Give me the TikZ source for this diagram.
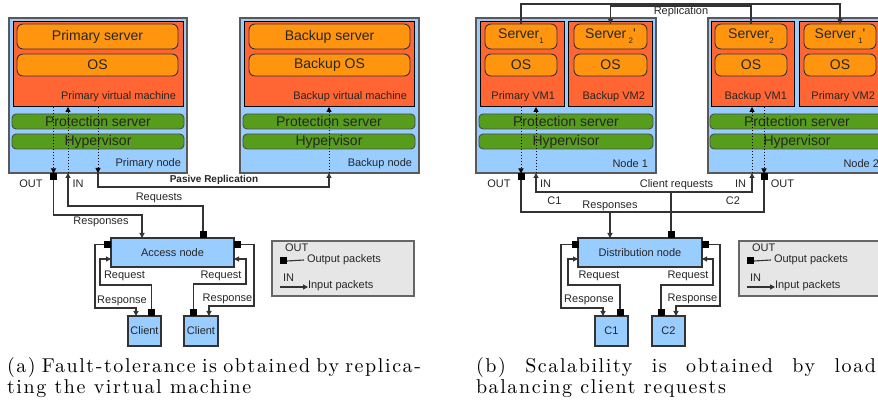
\documentclass[tikz,border=0pt]{standalone}
\usepackage{fontspec}
\newfontfamily\arialfont{Liberation Sans}
\newfontfamily\capserif{lmroman10-regular}[Extension=.otf, LetterSpace=8]
\usetikzlibrary{arrows.meta,positioning}

\definecolor{nodeblue}{HTML}{99CCFF}
\definecolor{vmred}{HTML}{FF6633}
\definecolor{srvorange}{HTML}{FF950E}
\definecolor{protgreen}{HTML}{579D1C}
\definecolor{legendgray}{HTML}{E6E6E6}
\definecolor{linegray}{HTML}{333333}

\newcommand{\srvsub}[1]{\raisebox{-5pt}{\fontsize{8}{8}\selectfont #1}}

\tikzset{
  every node/.style={font=\arialfont, text=black!85, inner sep=0pt, outer sep=0pt},
  nodebox/.style={draw=black!65, line width=1.3pt, fill=nodeblue, anchor=north west},
  vmbox/.style={draw=black, line width=1pt, fill=vmred, anchor=north west},
  srvbox/.style={draw=black!80, line width=0.9pt, fill=srvorange, rounded corners=6pt, anchor=north west, font=\arialfont\fontsize{14}{16}\selectfont},
  protbar/.style={draw=black!70, line width=0.9pt, fill=protgreen, rounded corners=4pt, anchor=north west, font=\arialfont\fontsize{14}{16}\selectfont},
  accbox/.style={draw=black!80, line width=1.1pt, fill=nodeblue, anchor=north west, font=\arialfont\fontsize{11}{13}\selectfont},
  legbox/.style={draw=black!60, line width=1.1pt, fill=legendgray, anchor=north west},
  lbl/.style={font=\arialfont\fontsize{11}{13}\selectfont},
  sq/.style={fill=black, minimum size=7pt},
  conn/.style={draw=linegray, line width=1.1pt},
  arr/.style={conn, -{Triangle[length=5pt,width=5pt]}},
  dotarr/.style={draw=black, line width=1pt, dotted, -{Triangle[length=5pt,width=5pt]}},
  captxt/.style={anchor=base west, font=\capserif\fontsize{20}{21}\selectfont, text=black},
}

\begin{document}
\begin{tikzpicture}[x=1pt,y=-1pt]

  \useasboundingbox (0,0) rectangle (878,411);
  \clip (0,0) rectangle (878,411);

  % ===== (a) fault tolerance =====

  % primary node
  \node[nodebox, minimum width=178, minimum height=155] (pnode) at (9,18) {};
  \node[vmbox, minimum width=170, minimum height=85] (pvm) at (13,22) {};
  \node[srvbox, minimum width=161, minimum height=25] (psrv) at (17,24) {Primary server};
  \node[srvbox, minimum width=161, minimum height=22] (pos) at (17,54) {OS};
  \node[lbl, anchor=east] (pvmlbl) at (176,97) {Primary virtual machine};
  \node[protbar, minimum width=172, minimum height=15] (pprot) at (12,114) {Protection server};
  \node[protbar, minimum width=172, minimum height=15] (phyp) at (12,134) {Hypervisor};
  \node[lbl, anchor=east] (pnodelbl) at (181,164) {Primary node};

  % backup node
  \node[nodebox, minimum width=179, minimum height=155] (bnode) at (240,18) {};
  \node[vmbox, minimum width=170, minimum height=85] (bvm) at (244,22) {};
  \node[srvbox, minimum width=161, minimum height=25] (bsrv) at (249,24) {Backup server};
  \node[srvbox, minimum width=161, minimum height=22] (bos) at (249,54) {Backup OS};
  \node[lbl, anchor=east] (bvmlbl) at (407,97) {Backup virtual machine};
  \node[protbar, minimum width=172, minimum height=15] (bprot) at (243,114) {Protection server};
  \node[protbar, minimum width=172, minimum height=15] (bhyp) at (243,134) {Hypervisor};
  \node[lbl, anchor=east] (bnodelbl) at (412,164) {Backup node};

  % ports
  \node[sq] (pout) at (53.5,177) {};
  \coordinate (pin) at (68,173);
  \coordinate (prep) at (98,173);
  \coordinate (brep) at (329,173);
  \node[lbl] (poutlbl) at (31,184) {OUT};
  \node[lbl] (pinlbl) at (78,184) {IN};

  % packets through the hypervisor
  \draw[dotarr] (pout |- pvm.south) -- (pout.north);
  \draw[dotarr] (pin) -- (pin |- pvm.south);
  \draw[dotarr] (prep |- pvm.south) -- (prep);
  \draw[dotarr] (brep) -- (brep |- bvm.south);

  % passive replication
  \draw[arr] (prep) -- (98,187) -| (brep);
  \node[lbl, font=\arialfont\bfseries\fontsize{10}{12}\selectfont] (replbl) at (214,180) {Pasive Replication};

  % access node and clients
  \node[accbox, minimum width=123, minimum height=29] (acc) at (111,238) {Access node};
  \node[sq] (acctop) at (203,234.5) {};
  \node[sq] (accl) at (107.5,244.5) {};
  \node[sq] (accr) at (237.5,244.5) {};
  \coordinate (accresp) at (142,238);
  \coordinate (accin1) at (111,259);
  \coordinate (accin2) at (234,259);

  \node[accbox, minimum width=33, minimum height=30] (cl1) at (128,316) {Client};
  \node[accbox, minimum width=34, minimum height=30] (cl2) at (184,316) {Client};
  \node[sq] (cl1sq) at (151.5,313) {};
  \node[sq] (cl2sq) at (193.5,313) {};
  \coordinate (cl1in) at (136,316);
  \coordinate (cl2in) at (209,316);

  % requests and responses
  \draw[arr] (pout.south) |- (142,215) -- (accresp);
  \draw[arr] (acctop.north) |- (68,206) -- (pin);
  \node[lbl] (reqlbl) at (159,198) {Requests};
  \node[lbl] (resplbl) at (101,222) {Responses};

  \draw[arr] (accl.west) -| (95,308) -| (cl1in);
  \draw[arr] (cl1sq.north) |- (100,285) |- (accin1);
  \draw[arr] (accr.east) -| (254,306) -| (cl2in);
  \draw[arr] (cl2sq.north) |- (246,284) |- (accin2);
  \node[lbl] (cl1req) at (124.5,276) {Request};
  \node[lbl] (cl1resp) at (122,301) {Response};
  \node[lbl] (cl2req) at (221,276) {Request};
  \node[lbl] (cl2resp) at (227.5,299) {Response};

  % legend
  \node[legbox, minimum width=142, minimum height=55] (leg1) at (272,241) {};
  \node[lbl, anchor=west] (leg1out) at (285,248) {OUT};
  \node[sq] (leg1sq) at (283.5,261) {};
  \node[lbl, anchor=west] (leg1optxt) at (307,260) {Output packets};
  \draw[conn] (leg1sq.east) -- ([xshift=-3pt]leg1optxt.west);
  \node[lbl, anchor=west] (leg1in) at (283,278) {IN};
  \coordinate (leg1ia) at (280,287);
  \node[lbl, anchor=west] (leg1iptxt) at (308,286) {Input packets};
  \draw[arr] (leg1ia) -- (leg1ia -| leg1iptxt.west);

  % ===== (b) scalability =====

  % node 1
  \node[nodebox, minimum width=180, minimum height=155] (n1) at (476,18) {};
  \node[vmbox, minimum width=84, minimum height=85] (vm11) at (480,22) {};
  \node[vmbox, minimum width=84, minimum height=85] (vm12) at (568,22) {};
  \node[srvbox, minimum width=72, minimum height=25] (s11) at (485,24) {Server\srvsub{1}};
  \node[srvbox, minimum width=72, minimum height=22] (os11) at (485,54) {OS};
  \node[srvbox, minimum width=73, minimum height=25] (s12) at (574,24) {Server\,\srvsub{2}'};
  \node[srvbox, minimum width=73, minimum height=22] (os12) at (574,54) {OS};
  \node[lbl, anchor=east] (vm11lbl) at (555,97) {Primary VM1};
  \node[lbl, anchor=east] (vm12lbl) at (645,97) {Backup VM2};
  \node[protbar, minimum width=174, minimum height=15] (n1prot) at (479,114) {Protection server};
  \node[protbar, minimum width=174, minimum height=15] (n1hyp) at (479,134) {Hypervisor};
  \node[lbl, anchor=east] (n1lbl) at (648,164) {Node 1};

  % node 2
  \node[nodebox, minimum width=180, minimum height=155] (n2) at (708,18) {};
  \node[vmbox, minimum width=83, minimum height=85] (vm21) at (711,22) {};
  \node[vmbox, minimum width=84, minimum height=85] (vm22) at (799,22) {};
  \node[srvbox, minimum width=72, minimum height=25] (s21) at (715,24) {Server\srvsub{2}};
  \node[srvbox, minimum width=72, minimum height=22] (os21) at (715,54) {OS};
  \node[srvbox, minimum width=72, minimum height=25] (s22) at (804,24) {Server\,\srvsub{1}'};
  \node[srvbox, minimum width=72, minimum height=22] (os22) at (804,54) {OS};
  \node[lbl, anchor=east] (vm21lbl) at (787,97) {Backup VM1};
  \node[lbl, anchor=east] (vm22lbl) at (875,97) {Primary VM2};
  \node[protbar, minimum width=174, minimum height=15] (n2prot) at (710,114) {Protection server};
  \node[protbar, minimum width=174, minimum height=15] (n2hyp) at (710,134) {Hypervisor};
  \node[lbl, anchor=east] (n2lbl) at (879,164) {Node 2};

  % replication between the nodes
  \draw[arr] (s11.north) -- ++(0,-20) -| (s22.north);
  \draw[arr] (s21.north) -- ++(0,-18) -| (s12.north);
  \node[lbl] (replbl2) at (681,12) {Replication};

  % ports
  \node[sq] (n1out) at (521,177) {};
  \coordinate (n1in) at (536,173);
  \node[sq] (n2out) at (764,177) {};
  \coordinate (n2in) at (752,173);
  \node[lbl] (n1outlbl) at (499,184) {OUT};
  \node[lbl] (n1inlbl) at (545.5,184) {IN};
  \node[lbl] (n2inlbl) at (740.5,184) {IN};
  \node[lbl] (n2outlbl) at (782.5,184) {OUT};

  \draw[dotarr] (n1out |- vm11.south) -- (n1out.north);
  \draw[dotarr] (n1in) -- (n1in |- vm11.south);
  \draw[dotarr] (n2in) -- (n2in |- vm21.south);
  \draw[dotarr] (n2out |- vm21.south) -- (n2out.north);

  % distribution node and clients
  \node[accbox, minimum width=124, minimum height=29] (dist) at (578,238) {Distribution node};
  \node[sq] (disttop) at (671,234.5) {};
  \node[sq] (distl) at (575,244.5) {};
  \node[sq] (distr) at (705.5,244.5) {};
  \coordinate (creq) at (671,192);
  \coordinate (dresp) at (610,212);
  \coordinate (distin1) at (578,259);
  \coordinate (distin2) at (702,259);

  \node[accbox, minimum width=33, minimum height=30] (c1) at (595,316) {C1};
  \node[accbox, minimum width=33, minimum height=30] (c2) at (652,316) {C2};
  \node[sq] (c1sq) at (620,313) {};
  \node[sq] (c2sq) at (661,313) {};
  \coordinate (c1in) at (603,316);
  \coordinate (c2in) at (676,316);

  % client requests and responses
  \draw[conn] (disttop.north) -- (creq);
  \draw[arr] (creq) -| (n1in);
  \draw[arr] (creq) -| (n2in);
  \draw[conn] (n1out.south) |- (dresp) -| (n2out.south);
  \draw[arr] (dresp) -- (dresp |- dist.north);
  \node[lbl] (creqlbl) at (676.5,185) {Client requests};
  \node[lbl] (c1lbl) at (554.5,201) {C1};
  \node[lbl] (c2lbl) at (733,201) {C2};
  \node[lbl] (dresplbl) at (610,206) {Responses};

  \draw[arr] (distl.west) -| (561,308) -| (c1in);
  \draw[arr] (c1sq.north) |- (568,285) |- (distin1);
  \draw[arr] (distr.east) -| (720,306) -| (c2in);
  \draw[arr] (c2sq.north) |- (713,285) |- (distin2);
  \node[lbl] (c1req) at (599,276) {Request};
  \node[lbl] (c1resp) at (589,300) {Response};
  \node[lbl] (c2req) at (688,276) {Request};
  \node[lbl] (c2resp) at (692.5,299) {Response};

  % legend
  \node[legbox, minimum width=142, minimum height=55] (leg2) at (739,241) {};
  \node[lbl, anchor=west] (leg2out) at (752,248) {OUT};
  \node[sq] (leg2sq) at (750.5,261) {};
  \node[lbl, anchor=west] (leg2optxt) at (774,260) {Output packets};
  \draw[conn] (leg2sq.east) -- ([xshift=-3pt]leg2optxt.west);
  \node[lbl, anchor=west] (leg2in) at (750,278) {IN};
  \coordinate (leg2ia) at (747,287);
  \node[lbl, anchor=west] (leg2iptxt) at (775,286) {Input packets};
  \draw[arr] (leg2ia) -- (leg2ia -| leg2iptxt.west);

  % captions
  \node[captxt] (capa1) at (7,372.5) {\makebox[414pt][s]{(a) Fault-tolerance is obtained by replica-}};
  \node[captxt] (capa2) at (7,393.5) {ting the virtual machine};
  \node[captxt] (capb1) at (476,372.5) {\makebox[400pt][s]{(b) Scalability is obtained by load}};
  \node[captxt] (capb2) at (476,393.5) {balancing client requests};

\end{tikzpicture}
\end{document}
